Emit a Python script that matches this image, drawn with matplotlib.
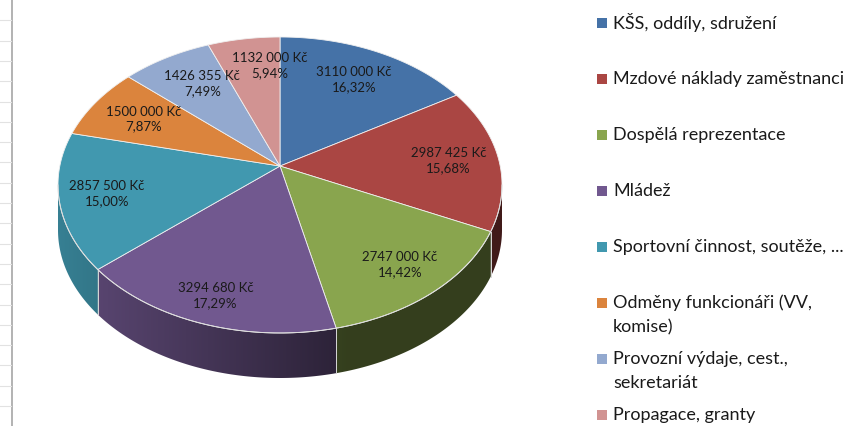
import numpy as np
import matplotlib
matplotlib.use("Agg")
from matplotlib import pyplot as plt
from matplotlib.patches import Polygon, Rectangle

# budget items, clockwise from 12 o'clock
categories = ["KŠS, oddíly, sdružení",
              "Mzdové náklady zaměstnanci",
              "Dospělá reprezentace",
              "Mládež",
              "Sportovní činnost, soutěže, ...",
              "Odměny funkcionáři (VV,\nkomise)",
              "Provozní výdaje, cest.,\nsekretariát",
              "Propagace, granty"]
values = [3110000, 2987425, 2747000, 3294680, 2857500, 1500000, 1426355, 1132000]
colors = ["#4572a7", "#aa4643", "#89a54e", "#71588f",
          "#4198af", "#db843d", "#93a9cf", "#d19392"]

# data label placement tweaks (fraction of radius, angle nudge in deg)
label_r = [0.74, 0.77, 0.80, 0.84, 0.79, 0.73, 0.72, 0.76]
label_shift = [0, 0, 0, 0, 0, 0, 3, 7]

W, H = 852, 426
CX, CY, A, B = 280, 185, 222, 148   # top ellipse in pixels
K = 0.128                            # perspective tilt
DEPTH = 45

plt.rcParams["font.family"] = ["Lato", "DejaVu Sans"]


def project(r, theta):
    """disk point (r, angle clockwise from top, deg) -> pixel coords"""
    t = np.radians(theta)
    X = r * np.sin(t)
    Y = r * np.cos(t)
    d = 1 + K * Y
    xp = X * np.sqrt(1 - K ** 2) / d
    yp = (Y + K) / d
    return CX + A * xp, CY - B * yp


def side_factor(x):
    xm = (x - CX) / A
    return 0.38 + 0.46 * np.clip((0.3 - xm) / 1.3, 0, 1)


def fmt_money(v):
    return "%d %03d Kč" % (v // 1000, v % 1000)


def fmt_pct(p):
    return ("%.2f" % p).replace(".", ",") + "%"


fig = plt.figure(figsize=(W / 100, H / 100), dpi=100)
ax = fig.add_axes([0, 0, 1, 1])
ax.axis("off")

# spreadsheet grid peeking in at the left
ax.plot([11.5, 11.5], [0, H], color="#a6a6a6", lw=1.2)
for gy in np.arange(20.3, H, 20.3):
    ax.plot([0, 11], [gy, gy], color="#e2e2e2", lw=0.8)

total = float(sum(values))
fracs = np.array(values) / total
bounds = np.concatenate([[0], np.cumsum(fracs)]) * 360

# visible part of the rim (front half on screen)
t_lo = np.degrees(np.arccos(-K))
t_hi = 360 - t_lo

# side walls, each a gradient clipped to the wall outline
for i in range(len(values)):
    a0 = max(bounds[i], t_lo)
    a1 = min(bounds[i + 1], t_hi)
    if a1 <= a0:
        continue
    ts = np.linspace(a0, a1, int((a1 - a0) * 2) + 2)
    xs, ys = project(1.0, ts)
    pts = list(zip(xs, ys)) + list(zip(xs[::-1], ys[::-1] + DEPTH))
    wall = Polygon(pts, closed=True, facecolor="none", edgecolor="none")
    ax.add_patch(wall)
    x_lo, x_hi = xs.min() - 2, xs.max() + 2
    gx = np.linspace(x_lo, x_hi, 200)
    base = np.array(matplotlib.colors.to_rgb(colors[i]))
    img = np.clip(side_factor(gx)[:, None] * base[None, :], 0, 1)[None, :, :]
    im = ax.imshow(img, extent=[x_lo, x_hi, ys.max() + DEPTH + 2, ys.min() - 2],
                   aspect="auto", interpolation="bilinear", zorder=2)
    im.set_clip_path(wall)

# slice seams on the side wall
for b in bounds:
    if t_lo < b < t_hi:
        x0, y0 = project(1.0, b)
        ax.plot([x0, x0], [y0, y0 + DEPTH], color="#d8d8d8", lw=0.7, zorder=3)

# top face
cx0, cy0 = project(0.0, 0)
for i in range(len(values)):
    ts = np.linspace(bounds[i], bounds[i + 1], int((bounds[i + 1] - bounds[i]) * 2) + 2)
    xs, ys = project(1.0, ts)
    pts = [(cx0, cy0)] + list(zip(xs, ys))
    ax.add_patch(Polygon(pts, closed=True, facecolor=colors[i],
                         edgecolor="#f0f0f0", lw=0.6, zorder=4))

# light rim line on the front edge
ts = np.linspace(t_lo, t_hi, 300)
xs, ys = project(1.0, ts)
ax.plot(xs, ys, color="#dcdcdc", lw=0.7, zorder=5)

# data labels
for i in range(len(values)):
    mid = (bounds[i] + bounds[i + 1]) / 2 + label_shift[i]
    lx, ly = project(label_r[i], mid)
    ax.text(lx, ly, fmt_money(values[i]) + "\n" + fmt_pct(fracs[i] * 100),
            ha="center", va="center", fontsize=9.5, linespacing=1.3,
            color="#1a1a1a", zorder=6)

# legend
for i, name in enumerate(categories):
    y0 = 23 + i * 56
    ax.add_patch(Rectangle((597, y0 - 5), 10, 10, facecolor=colors[i],
                           edgecolor="none", zorder=6))
    for j, line in enumerate(name.split("\n")):
        ax.text(613, y0 + j * 24, line, ha="left", va="center",
                fontsize=13, color="#1a1a1a", zorder=6)

ax.set_xlim(0, W)
ax.set_ylim(H, 0)

fig.savefig("out.png", dpi=100)
